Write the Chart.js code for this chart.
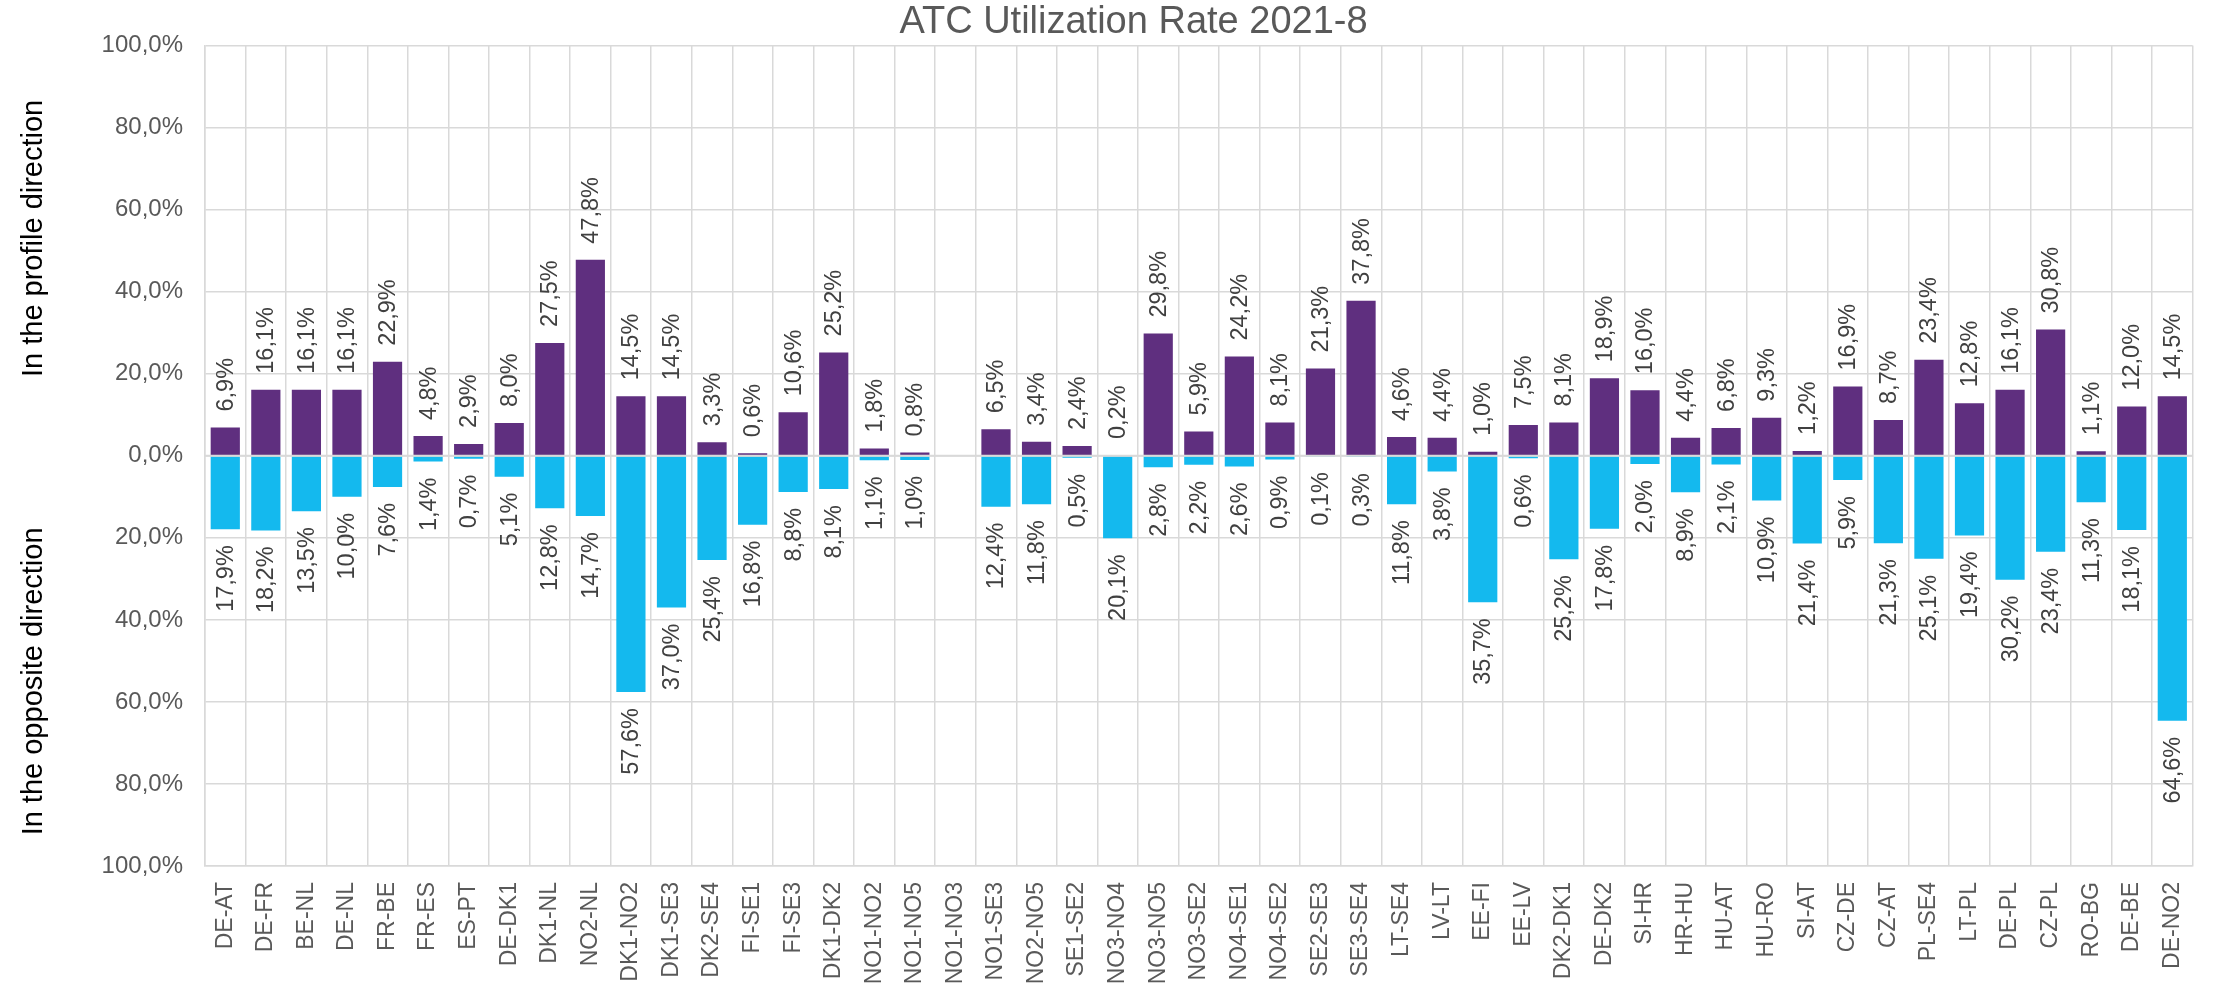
<!DOCTYPE html>
<html>
<head>
<meta charset="utf-8">
<title>ATC Utilization Rate 2021-8</title>
<script src="https://cdn.jsdelivr.net/npm/chart.js@4.4.1/dist/chart.umd.min.js"></script>
<style>
    html, body { margin: 0; padding: 0; background: #fff; }
    #wrap { width: 2216px; height: 987px; }
</style>
</head>
<body>
<div id="wrap"><canvas id="atcChart"></canvas></div>
<script>
// borders (category axis)
const categories = [
    'DE-AT', 'DE-FR', 'BE-NL', 'DE-NL', 'FR-BE', 'FR-ES', 'ES-PT', 'DE-DK1', 'DK1-NL', 'NO2-NL',
    'DK1-NO2', 'DK1-SE3', 'DK2-SE4', 'FI-SE1', 'FI-SE3', 'DK1-DK2', 'NO1-NO2', 'NO1-NO5', 'NO1-NO3', 'NO1-SE3',
    'NO2-NO5', 'SE1-SE2', 'NO3-NO4', 'NO3-NO5', 'NO3-SE2', 'NO4-SE1', 'NO4-SE2', 'SE2-SE3', 'SE3-SE4', 'LT-SE4',
    'LV-LT', 'EE-FI', 'EE-LV', 'DK2-DK1', 'DE-DK2', 'SI-HR', 'HR-HU', 'HU-AT', 'HU-RO', 'SI-AT',
    'CZ-DE', 'CZ-AT', 'PL-SE4', 'LT-PL', 'DE-PL', 'CZ-PL', 'RO-BG', 'DE-BE', 'DE-NO2'
];

// utilisation in the profile direction (%)
const profileValues = [
    6.9, 16.1, 16.1, 16.1, 22.9, 4.8, 2.9, 8.0, 27.5, 47.8,
    14.5, 14.5, 3.3, 0.6, 10.6, 25.2, 1.8, 0.8, null, 6.5,
    3.4, 2.4, 0.2, 29.8, 5.9, 24.2, 8.1, 21.3, 37.8, 4.6,
    4.4, 1.0, 7.5, 8.1, 18.9, 16.0, 4.4, 6.8, 9.3, 1.2,
    16.9, 8.7, 23.4, 12.8, 16.1, 30.8, 1.1, 12.0, 14.5
];

// utilisation in the opposite direction (%), drawn downwards
const oppositeValues = [
    17.9, 18.2, 13.5, 10.0, 7.6, 1.4, 0.7, 5.1, 12.8, 14.7,
    57.6, 37.0, 25.4, 16.8, 8.8, 8.1, 1.1, 1.0, null, 12.4,
    11.8, 0.5, 20.1, 2.8, 2.2, 2.6, 0.9, 0.1, 0.3, 11.8,
    3.8, 35.7, 0.6, 25.2, 17.8, 2.0, 8.9, 2.1, 10.9, 21.4,
    5.9, 21.3, 25.1, 19.4, 30.2, 23.4, 11.3, 18.1, 64.6
];

const FONT = "'Liberation Sans', Arial, sans-serif";
const GRID = '#d9d9d9';

// 12,3 -> "12,3%"
function pct(v) {
    return Math.abs(v).toFixed(1).replace('.', ',') + '%';
}

// 値ラベル・ゼロ線・左側の見出し
const labelsPlugin = {
    id: 'atcLabels',
    afterDatasetsDraw(chart) {
        const ctx = chart.ctx;
        const area = chart.chartArea;
        const y = chart.scales.y;

        // zero line over the bars
        const y0 = y.getPixelForValue(0);
        ctx.save();
        ctx.strokeStyle = GRID;
        ctx.lineWidth = 2;
        ctx.beginPath();
        ctx.moveTo(area.left, y0);
        ctx.lineTo(area.right, y0);
        ctx.stroke();
        ctx.restore();

        ctx.save();
        ctx.font = '23.5px ' + FONT;
        ctx.fillStyle = '#404040';
        ctx.textBaseline = 'middle';
        chart.data.datasets.forEach((ds, i) => {
            const meta = chart.getDatasetMeta(i);
            meta.data.forEach((bar, j) => {
                const v = ds.data[j];
                if (v === null || v === undefined) return;
                ctx.save();
                if (i === 0) {
                    ctx.translate(bar.x, bar.y - 16);
                    ctx.rotate(-Math.PI / 2);
                    ctx.textAlign = 'left';
                } else {
                    ctx.translate(bar.x, bar.y + 16);
                    ctx.rotate(-Math.PI / 2);
                    ctx.textAlign = 'right';
                }
                ctx.fillText(pct(v), 0, 1);
                ctx.restore();
            });
        });
        ctx.restore();
    },
    afterDraw(chart) {
        const ctx = chart.ctx;
        const y = chart.scales.y;
        ctx.save();
        ctx.font = '29px ' + FONT;
        ctx.fillStyle = '#000';
        ctx.textAlign = 'center';
        ctx.textBaseline = 'middle';
        [['In the profile direction', 53], ['In the opposite direction', -55]].forEach(([txt, at]) => {
            ctx.save();
            ctx.translate(34, y.getPixelForValue(at));
            ctx.rotate(-Math.PI / 2);
            ctx.fillText(txt, 0, 0);
            ctx.restore();
        });
        ctx.restore();
    }
};

const ctx = document.getElementById('atcChart').getContext('2d');
const atcChart = new Chart(ctx, {
    type: 'bar',
    data: {
        labels: categories,
        datasets: [{
            label: 'In the profile direction',
            data: profileValues,
            backgroundColor: '#5f2f7f',
            barPercentage: 0.72,
            categoryPercentage: 1
        }, {
            label: 'In the opposite direction',
            data: oppositeValues.map(v => v === null ? null : -v),
            backgroundColor: '#14b9ee',
            barPercentage: 0.72,
            categoryPercentage: 1
        }]
    },
    options: {
        responsive: true,
        maintainAspectRatio: false,
        animation: false,
        layout: { padding: { left: 60, right: 9, top: 0, bottom: 0 } },
        plugins: {
            legend: { display: false },
            tooltip: { enabled: false },
            title: {
                display: true,
                text: 'ATC Utilization Rate 2021-8',
                color: '#595959',
                font: { family: FONT, size: 38, weight: 'normal' },
                padding: { top: 0, bottom: 0 }
            }
        },
        scales: {
            x: {
                stacked: true,
                grid: { color: GRID, lineWidth: 1.5, drawTicks: false, offset: true },
                border: { color: GRID, width: 1.5 },
                ticks: {
                    autoSkip: false,
                    maxRotation: 90,
                    minRotation: 90,
                    padding: 16,
                    color: '#595959',
                    font: { family: FONT, size: 23 }
                },
                afterFit: s => { s.height = 121; }
            },
            y: {
                stacked: true,
                min: -100,
                max: 100,
                grid: { color: GRID, lineWidth: 1.5, drawTicks: false },
                border: { color: GRID, width: 1.5 },
                ticks: {
                    stepSize: 20,
                    padding: 22,
                    color: '#595959',
                    font: { family: FONT, size: 24 },
                    callback: v => pct(v)
                },
                afterFit: s => { s.width = 145; }
            }
        }
    },
    plugins: [labelsPlugin]
});
</script>
</body>
</html>
